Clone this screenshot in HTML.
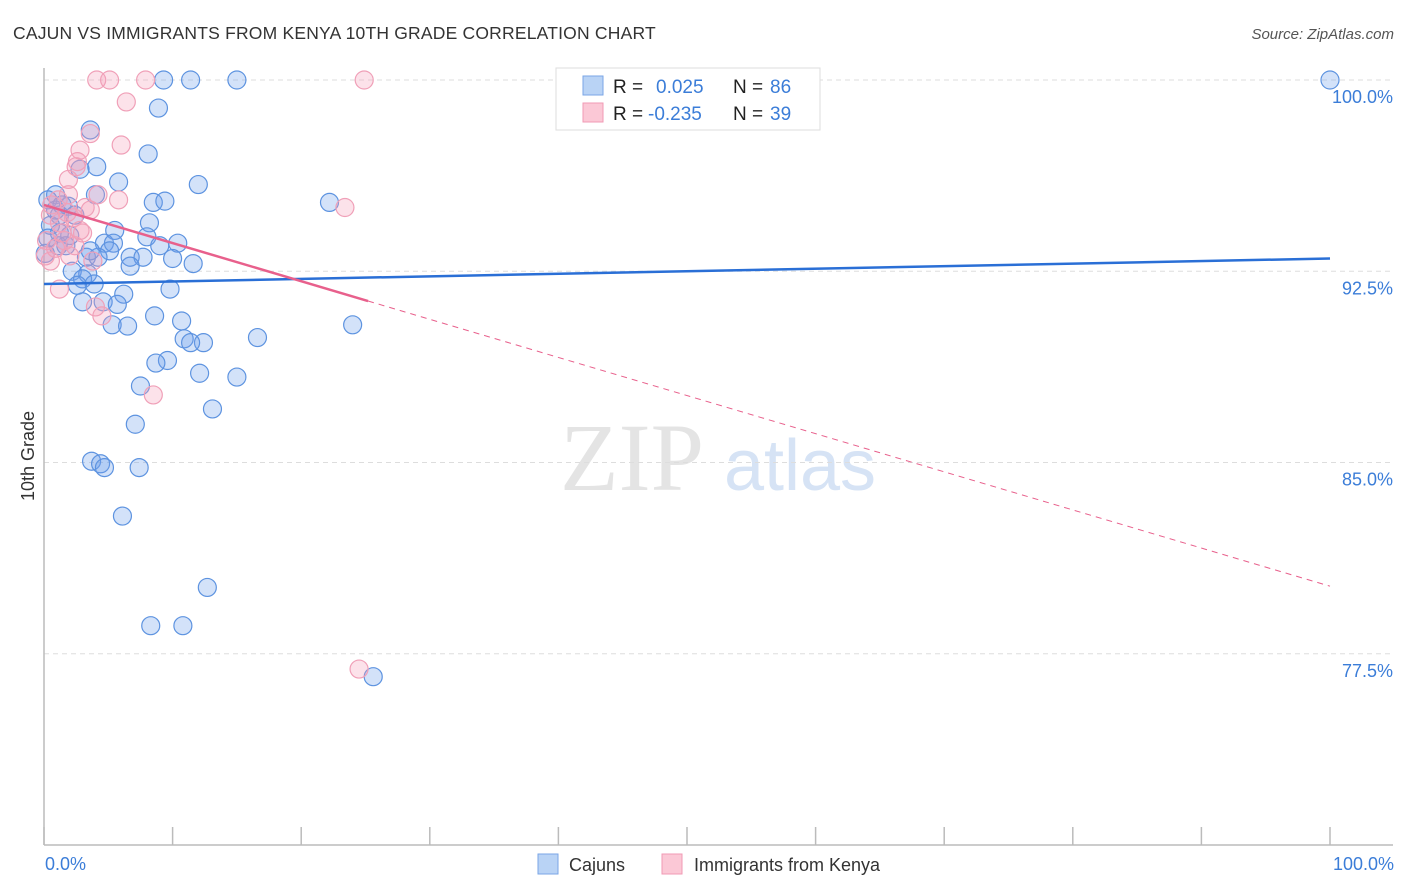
<!DOCTYPE html>
<html><head><meta charset="utf-8"><style>
body{margin:0;background:#fff;font-family:"Liberation Sans",sans-serif;}
svg{display:block}
</style></head><body>
<svg id="chart" width="1406" height="892" xmlns="http://www.w3.org/2000/svg">
<text x="13" y="39" font-size="17.5" fill="#333" letter-spacing="0.2">CAJUN VS IMMIGRANTS FROM KENYA 10TH GRADE CORRELATION CHART</text>
<text x="1394" y="39" font-size="15" fill="#555" font-style="italic" text-anchor="end">Source: ZipAtlas.com</text>
<text x="632" y="490" font-size="96" fill="#e4e4e4" font-family="Liberation Serif,serif" text-anchor="middle">ZIP</text>
<text x="800" y="490" font-size="72" fill="#d6e3f5" text-anchor="middle">atlas</text>
<g id="grid"></g>
<g id="axes"></g>
<g id="pts"></g>
<g id="trend"></g>
<text x="34" y="456" font-size="18" fill="#333" text-anchor="middle" transform="rotate(-90 34 456)">10th Grade</text>
<text x="45" y="870" font-size="18" fill="#3b7dd8">0.0%</text>
<text x="1394" y="870" font-size="18" fill="#3b7dd8" text-anchor="end">100.0%</text>
<g>
<rect x="556" y="68" width="264" height="62" fill="#fff" stroke="#ddd"/>
<rect x="583" y="76" width="20" height="19" fill="#b9d3f5" stroke="#7aa6e6"/>
<rect x="583" y="103" width="20" height="19" fill="#fbc8d6" stroke="#f09ab4"/>
<text x="613" y="93" font-size="19" fill="#222">R = </text><text x="656" y="93" font-size="19" fill="#3b7dd8">0.025</text>
<text x="733" y="93" font-size="19" fill="#222">N = </text><text x="770" y="93" font-size="19" fill="#3b7dd8">86</text>
<text x="613" y="120" font-size="19" fill="#222">R = </text><text x="648" y="120" font-size="19" fill="#3b7dd8">-0.235</text>
<text x="733" y="120" font-size="19" fill="#222">N = </text><text x="770" y="120" font-size="19" fill="#3b7dd8">39</text>
</g>
<g>
<rect x="538" y="854" width="20" height="20" fill="#b9d3f5" stroke="#7aa6e6"/>
<text x="569" y="871" font-size="18" fill="#333">Cajuns</text>
<rect x="662" y="854" width="20" height="20" fill="#fbc8d6" stroke="#f09ab4"/>
<text x="694" y="871" font-size="18" fill="#333">Immigrants from Kenya</text>
</g>
</svg>
<script>
const yTicks=[100,92.5,85,77.5];
const yTickLabels=["100.0%","92.5%","85.0%","77.5%"];
const xTicks=[0,10,20,30,40,50,60,70,80,90,100];
const blueX=[100,9.3,11.4,15.0,8.9,3.6,8.1,4.1,2.8,5.8,12.0,0.9,4.0,8.5,9.4,0.3,1.9,22.2,8.2,1.2,5.5,8.0,10.4,9.0,4.7,5.4,5.1,1.2,2.0,1.1,3.3,4.2,6.7,7.7,10.0,11.6,6.7,2.2,3.4,3.0,3.9,2.6,6.2,9.8,3.0,4.6,5.7,8.6,10.7,5.3,6.5,24.0,16.6,10.9,12.4,11.4,9.6,8.7,12.1,15.0,7.5,13.1,7.1,3.7,4.4,4.7,7.4,6.1,12.7,8.3,10.8,25.6,0.1,0.5,0.9,1.4,2.4,1.7,3.6,0.3];
const blueY=[100,100,100,100,98.9,98.04,97.1,96.6,96.5,96.0,95.9,95.5,95.5,95.2,95.25,95.3,95.05,95.2,94.4,94.7,94.1,93.85,93.6,93.5,93.6,93.6,93.3,94.0,93.9,93.5,93.05,93.05,93.05,93.05,93.0,92.8,92.7,92.5,92.4,92.2,92.0,91.95,91.6,91.8,91.3,91.3,91.2,90.75,90.55,90.4,90.35,90.4,89.9,89.85,89.7,89.7,89.0,88.9,88.5,88.35,88.0,87.1,86.5,85.05,84.95,84.8,84.8,82.9,80.1,78.6,78.6,76.6,93.2,94.3,94.9,95.1,94.7,93.5,93.3,93.8];
const pinkX=[4.1,5.1,7.9,24.9,6.4,3.6,6.0,2.8,2.6,2.5,1.9,4.2,5.8,23.4,1.9,0.6,3.6,1.2,2.3,3.0,0.2,0.9,1.4,1.8,1.1,2.4,2.0,0.5,0.1,1.2,4.0,4.5,8.5,24.5,2.8,3.2,0.5,1.6,3.8];
const pinkY=[100,100,100,100,99.14,97.9,97.45,97.25,96.8,96.6,96.1,95.5,95.3,95.0,95.5,95.1,94.9,94.4,94.6,94.0,93.7,93.4,94.0,94.8,95.3,93.5,93.1,92.9,93.1,91.8,91.1,90.75,87.65,76.9,94.1,95.0,94.7,93.7,92.9];
const blueTrend=[92.0,93.0];
const pinkTrend=[95.1,80.15];
const pinkSolidEnd=25.2;
const NS="http://www.w3.org/2000/svg";
const X0=44,X1=1330,Y100=80,PXPER=25.5;
const sx=v=>X0+(X1-X0)*v/100;
const sy=v=>Y100+(100-v)*PXPER;
function mk(t,a,p){const e=document.createElementNS(NS,t);for(const k in a)e.setAttribute(k,a[k]);p.appendChild(e);return e;}
const grid=document.getElementById('grid'),axes=document.getElementById('axes'),pts=document.getElementById('pts'),trend=document.getElementById('trend');
yTicks.forEach((v,i)=>{
 const l=mk('line',{x1:X0,x2:1393,y1:sy(v),y2:sy(v),stroke:'#ddd','stroke-dasharray':'5,4'},grid);
 
 
 const t=mk('text',{x:1393,y:sy(v)+23,'font-size':18,fill:'#3b7dd8','text-anchor':'end'},grid);
 t.textContent=yTickLabels[i];
 
 
});
const ya=mk('line',{x1:X0,x2:X0,y1:68,y2:845,stroke:'#bbb','stroke-width':1.5},axes);


const xa=mk('line',{x1:X0,x2:1393,y1:845,y2:845,stroke:'#bbb','stroke-width':1.5},axes);


xTicks.forEach(v=>{
 const t=mk('line',{x1:sx(v),x2:sx(v),y1:827,y2:845,stroke:'#bbb','stroke-width':1.5},axes);
 
 
});
blueX.forEach((v,i)=>{
 const c=mk('circle',{cx:sx(v),cy:sy(blueY[i]),r:9,fill:'rgba(110,160,235,0.3)',stroke:'#5d93e0','stroke-width':1.2},pts);
 
 
});
pinkX.forEach((v,i)=>{
 const c=mk('circle',{cx:sx(v),cy:sy(pinkY[i]),r:9,fill:'rgba(245,160,185,0.3)',stroke:'#f0a0b8','stroke-width':1.2},pts);
 
 
});
const bl=mk('line',{x1:sx(0),y1:sy(blueTrend[0]),x2:sx(100),y2:sy(blueTrend[1]),stroke:'#2a6fd6','stroke-width':2.5},trend);


const pAt=x=>pinkTrend[0]+(pinkTrend[1]-pinkTrend[0])*x/100;
const ps=mk('line',{x1:sx(0),y1:sy(pinkTrend[0]),x2:sx(pinkSolidEnd),y2:sy(pAt(pinkSolidEnd)),stroke:'#e8608c','stroke-width':2.5},trend);


const pd=mk('line',{x1:sx(pinkSolidEnd),y1:sy(pAt(pinkSolidEnd)),x2:sx(100),y2:sy(pinkTrend[1]),stroke:'#e8608c','stroke-width':1,'stroke-dasharray':'6,5'},trend);


</script>
</body></html>
